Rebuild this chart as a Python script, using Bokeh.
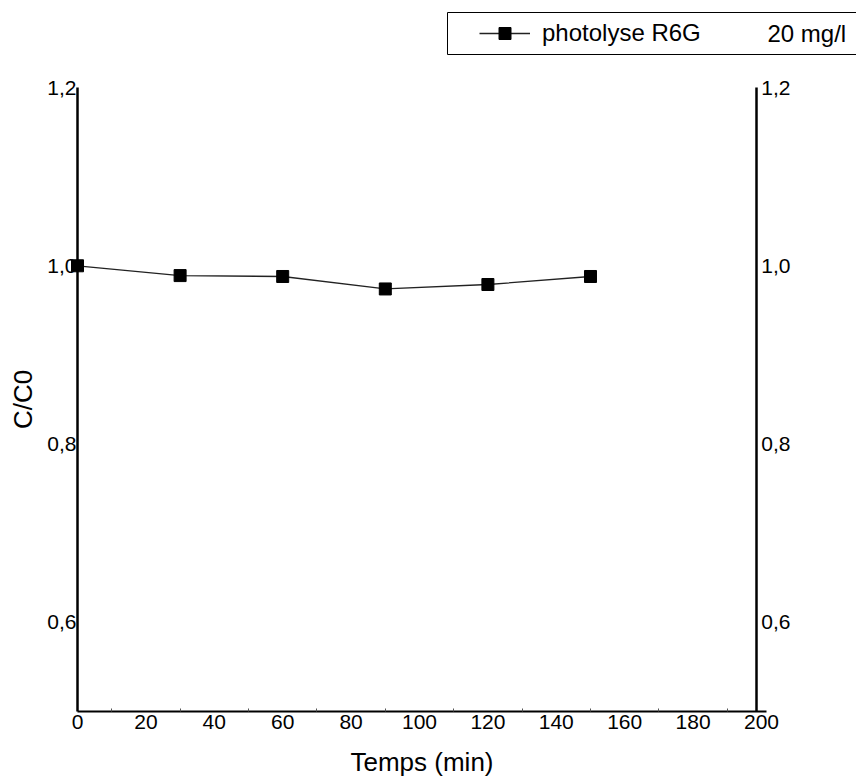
from bokeh.plotting import figure
from bokeh.models import (LinearAxis, FixedTicker, CustomJSTickFormatter, Range1d,
                          Legend, LegendItem, BoxAnnotation, Label)
from bokeh.embed import file_html
from bokeh.resources import INLINE

# ---- data ----
temps_min = [0, 30, 60, 90, 120, 150]
c_over_c0 = [1.000, 0.989, 0.988, 0.974, 0.979, 0.988]
series_label = "photolyse R6G"
conc_label = "20 mg/l"
x_ticks = [0, 20, 40, 60, 80, 100, 120, 140, 160, 180, 200]
x_minor = [10, 30, 50, 70, 90, 110, 130, 150, 170, 190]
y_ticks = [0.6, 0.8, 1.0, 1.2]

SANS = "Liberation Sans"

# frame covers the whole canvas; axes are placed at fixed data locations
p = figure(width=856, height=778,
           x_range=Range1d(-22.515, 227.78), y_range=Range1d(0.42484, 1.2976),
           output_backend="svg", toolbar_location=None,
           x_axis_location=None, y_axis_location=None,
           min_border=0, min_border_left=0, min_border_right=0,
           min_border_top=0, min_border_bottom=0)
p.outline_line_color = None
p.xgrid.visible = False
p.ygrid.visible = False
p.background_fill_color = "white"
p.border_fill_color = "white"

fmt = CustomJSTickFormatter(code="return tick.toFixed(1).replace('.', ',');")

# bottom axis
xa = LinearAxis(ticker=FixedTicker(ticks=x_ticks, minor_ticks=x_minor),
                axis_label="Temps (min)", fixed_location=0.5, bounds=(0, 201.5))
xa.axis_line_width = 2
xa.axis_line_color = "black"
xa.major_tick_in = 0
xa.major_tick_out = 0
xa.minor_tick_in = 3
xa.minor_tick_out = 0
xa.minor_tick_line_color = "#555555"
xa.major_label_standoff = 3
xa.major_label_text_font = SANS
xa.major_label_text_font_size = "21px"
xa.major_label_text_color = "black"
xa.axis_label_text_font = SANS
xa.axis_label_text_font_size = "26px"
xa.axis_label_text_font_style = "normal"
xa.axis_label_text_color = "black"
xa.axis_label_standoff = 15
p.add_layout(xa, "below")

# left axis
ya = LinearAxis(ticker=FixedTicker(ticks=y_ticks, minor_ticks=[]),
                formatter=fmt, axis_label="C/C0", fixed_location=0, bounds=(0.5, 1.2))
ya.axis_line_width = 2.5
ya.axis_line_color = "black"
ya.major_tick_in = 0
ya.major_tick_out = 0
ya.minor_tick_in = 0
ya.minor_tick_out = 0
ya.major_label_standoff = 1
ya.major_label_text_font = SANS
ya.major_label_text_font_size = "21px"
ya.major_label_text_color = "black"
ya.axis_label_text_font = SANS
ya.axis_label_text_font_size = "26px"
ya.axis_label_text_font_style = "normal"
ya.axis_label_text_color = "black"
ya.axis_label_standoff = 6
p.add_layout(ya, "left")

# right axis
yr = LinearAxis(ticker=FixedTicker(ticks=y_ticks, minor_ticks=[]), formatter=fmt,
                fixed_location=198.5, bounds=(0.5, 1.2))
yr.axis_line_width = 2.5
yr.axis_line_color = "black"
yr.major_tick_in = 0
yr.major_tick_out = 0
yr.minor_tick_in = 0
yr.minor_tick_out = 0
yr.major_label_standoff = 5
yr.major_label_text_font = SANS
yr.major_label_text_font_size = "21px"
yr.major_label_text_color = "black"
p.add_layout(yr, "right")

# data
ln = p.line(temps_min, c_over_c0, line_color="#222222", line_width=1.3)
sc = p.scatter(temps_min, c_over_c0, marker="square", size=12,
               fill_color="black", line_color="black")

# legend frame (extends past the right edge as in the reference)
box = BoxAnnotation(left=447, right=900, bottom=724, top=766,
                    left_units="screen", right_units="screen",
                    bottom_units="screen", top_units="screen",
                    fill_alpha=0.0, line_color="black", line_alpha=1.0,
                    line_width=1, level="underlay")
p.add_layout(box)

legend = Legend(items=[LegendItem(label=series_label, renderers=[ln, sc])],
                location=(479, 730), orientation="horizontal",
                padding=0, margin=0, spacing=0,
                glyph_width=51, glyph_height=30, label_height=30,
                label_standoff=12,
                label_text_font=SANS, label_text_font_size="24px",
                label_text_color="black",
                border_line_color=None, background_fill_alpha=0.0)
p.add_layout(legend, "center")

conc = Label(x=767, y=745, x_units="screen", y_units="screen",
             text=conc_label, text_font=SANS, text_font_size="24px",
             text_baseline="middle", text_align="left", text_color="black",
             level="overlay")
p.add_layout(conc)

open("out.html", "w").write(file_html(p, INLINE))
